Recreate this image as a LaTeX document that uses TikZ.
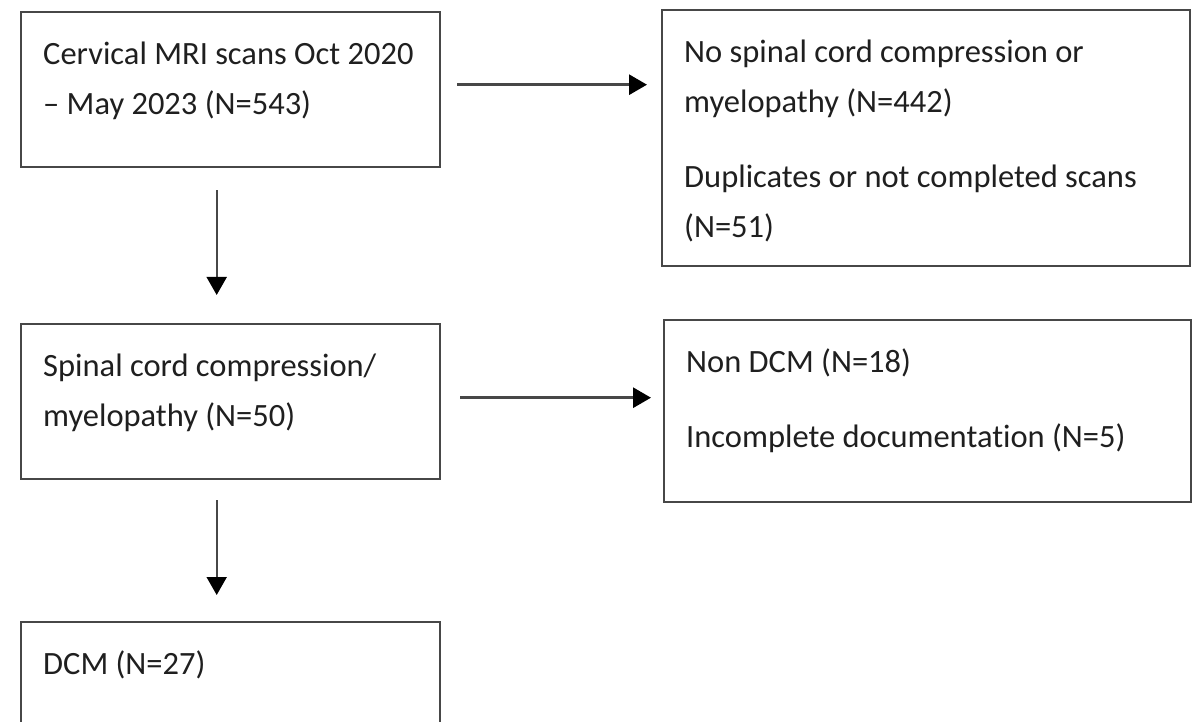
\documentclass[tikz,border=0pt]{standalone}
\usepackage{fontspec}
\setmainfont[Ligatures={TeX,NoCommon}]{Carlito}
\usetikzlibrary{arrows.meta}
\usetikzlibrary{positioning}

\tikzset{
  flowbox/.style={draw=black!72, line width=2.4pt, anchor=north west,
    inner xsep=22pt, inner ysep=17pt, text=black!88,
    font=\fontsize{32.5}{50}\selectfont},
  flowarrow/.style={draw=black!72, line width=2.2pt,
    -{Triangle[length=18pt,width=20pt,color=black]}}
}
\newcommand{\boxtext}[3]{\parbox[t][#2][t]{#1}{\raggedright\strut #3}}

\begin{document}
\begin{tikzpicture}[x=1pt,y=-1pt]
    \useasboundingbox (0,0) rectangle (1200,722);
    \clip (0,0) rectangle (1200,722);
    \node[flowbox] (scan) at (20,11) {\boxtext{375pt}{121pt}{Cervical MRI
    scans Oct 2020\\ – May 2023 (N=543)}}; \node[flowbox] (excl) at (661,9)
    {\boxtext{484pt}{222pt}{No spinal cord compression or\\ myelopathy
    (N=442)\\[25pt] Duplicates or not completed scans\\ (N=51)}};
    \node[flowbox] (comp) at (20,323) {\boxtext{375pt}{121pt}{Spinal cord
    compression/\\ myelopathy (N=50)}}; \node[flowbox] (nondcm) at (663,319)
    {\boxtext{483pt}{148pt}{Non DCM (N=18)\\[25pt] Incomplete documentation
    (N=5)}}; \node[flowbox] (dcm) at (20,621) {\boxtext{375pt}{126pt}{DCM
    (N=27)}};
    \draw[flowarrow, line width=3pt] ([xshift=16pt,yshift=5pt]scan.east) --
    ([xshift=-14pt,yshift=5pt]scan.east -| excl.west);
    \draw[flowarrow, line width=2pt] ([xshift=-14pt,yshift=-22pt]scan.south)
    -- ([xshift=-14pt,yshift=28pt]comp.north);
    \draw[flowarrow, line width=3pt] ([xshift=19pt,yshift=4pt]comp.east) --
    ([xshift=-12pt,yshift=4pt]comp.east -| nondcm.west);
    \draw[flowarrow, line width=2pt] ([xshift=-14pt,yshift=-20pt]comp.south)
    -- ([xshift=-14pt,yshift=26pt]dcm.north);
  \end{tikzpicture}
\end{document}
